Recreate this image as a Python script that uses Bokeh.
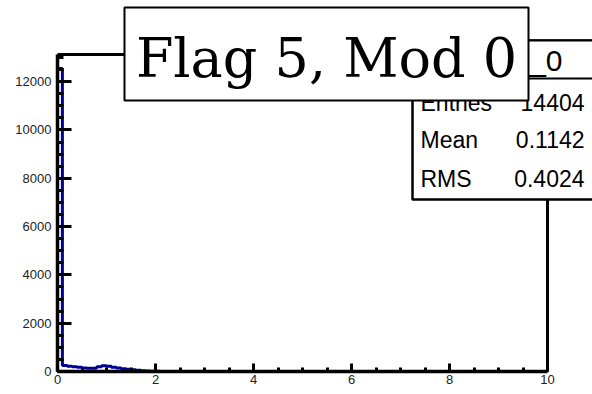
import numpy as np
from bokeh.plotting import figure
from bokeh.models import (Range1d, SingleIntervalTicker, LinearAxis, FixedTicker,
                          Label, GridBox)
from bokeh.embed import file_html
from bokeh.resources import INLINE

# ---------------- data ----------------
x_min, x_max = 0.0, 10.0
bin_width = 0.1
n_bins = 100
counts_head = [12550, 250, 220, 200, 180, 150, 135, 135, 200, 240,
               220, 180, 140, 110, 90, 70, 50, 35, 20, 12,
               6, 3, 2, 1]
counts = counts_head + [0] * (n_bins - len(counts_head))

x_ticks_interval = 2
y_ticks_interval = 2000
y_max = 13125

title_text = "Flag 5, Mod 0"
stats_name = "h5_0"
stats_labels = ["Entries", "Mean", "RMS"]
stats_values = ["14404", "0.1142", "0.4024"]

# ---------------- main figure ----------------
FL, FR, FT, FB = 57, 547, 54, 371   # frame edges in canvas pixels
W, H = 592, 394

p = figure(width=W, height=H, output_backend="svg", toolbar_location=None,
           x_range=Range1d(x_min, x_max), y_range=Range1d(0, y_max),
           min_border_left=FL, min_border_right=W - FR,
           min_border_top=FT, min_border_bottom=H - FB,
           outline_line_color=None, background_fill_color="white",
           border_fill_color="white")
p.frame_align = False
p.grid.visible = False

tick_font = "Liberation Sans"
xa = p.xaxis[0]
xa.ticker = SingleIntervalTicker(interval=x_ticks_interval, num_minor_ticks=4)
xa.axis_line_width = 3.5
xa.major_tick_in = 8
xa.major_tick_out = 0
xa.minor_tick_in = 4
xa.minor_tick_out = 0
xa.major_tick_line_width = 3
xa.minor_tick_line_width = 3
xa.major_label_standoff = 3
xa.major_label_text_font = tick_font
xa.major_label_text_font_size = "13px"
xa.major_label_text_color = "#222222"

ya = p.yaxis[0]
ya.ticker = SingleIntervalTicker(interval=y_ticks_interval, num_minor_ticks=4)
ya.axis_line_width = 3.5
ya.major_tick_in = 14
ya.major_tick_out = 0
ya.minor_tick_in = 6
ya.minor_tick_out = 0
ya.major_tick_line_width = 3
ya.minor_tick_line_width = 3
ya.major_label_standoff = 6
ya.major_label_text_font = tick_font
ya.major_label_text_font_size = "13px"
ya.major_label_text_color = "#222222"

for loc in ("above", "right"):
    ax = LinearAxis(ticker=FixedTicker(ticks=[]), axis_line_width=3,
                    major_tick_line_color=None, minor_tick_line_color=None,
                    major_label_text_font_size="0px")
    p.add_layout(ax, loc)

# histogram outline (step)
edges = x_min + bin_width * np.arange(n_bins + 1)
xs = [edges[0]]
ys = [0]
for i, c in enumerate(counts):
    xs += [edges[i], edges[i + 1]]
    ys += [c, c]
p.line(xs, ys, line_color="#000099", line_width=3)


def overlay():
    f = figure(width=W, height=H, output_backend="svg", toolbar_location=None,
               x_range=Range1d(0, W), y_range=Range1d(H, 0),
               x_axis_location=None, y_axis_location=None,
               min_border=0, outline_line_color=None,
               background_fill_color=None, border_fill_color=None)
    f.frame_align = False
    f.grid.visible = False
    return f


# ---------------- overlay: stats box ----------------
q = overlay()
q.quad(left=[412], right=[650], top=[40], bottom=[199],
       fill_color="white", line_color="black", line_width=2.5)
q.quad(left=[412], right=[650], top=[40], bottom=[78],
       fill_color="white", line_color="black", line_width=2)

stat_font = "Liberation Sans"
q.add_layout(Label(x=562, y=60, text=stats_name, text_align="right",
                   text_baseline="alphabetic", text_font=stat_font,
                   text_font_size="30px", text_color="black"))
for lab, val, by in zip(stats_labels, stats_values, [102, 139, 178]):
    q.add_layout(Label(x=420, y=by, text=lab, text_align="left",
                       text_baseline="alphabetic", text_font=stat_font,
                       text_font_size="23px", text_color="black"))
    q.add_layout(Label(x=584, y=by, text=val, text_align="right",
                       text_baseline="alphabetic", text_font=stat_font,
                       text_font_size="23px", text_color="black"))

# ---------------- overlay: title box (on top) ----------------
q2 = overlay()
q2.quad(left=[124], right=[528], top=[7], bottom=[100],
        fill_color="white", line_color="black", line_width=2)
q2.add_layout(Label(x=326, y=58, text=title_text, text_align="center",
                    text_baseline="alphabetic", text_font="DejaVu Serif",
                    text_font_size="54px", text_color="black"))

layout = GridBox(children=[(p, 0, 0), (q, 0, 0), (q2, 0, 0)])

open("out.html", "w").write(file_html(layout, INLINE))
